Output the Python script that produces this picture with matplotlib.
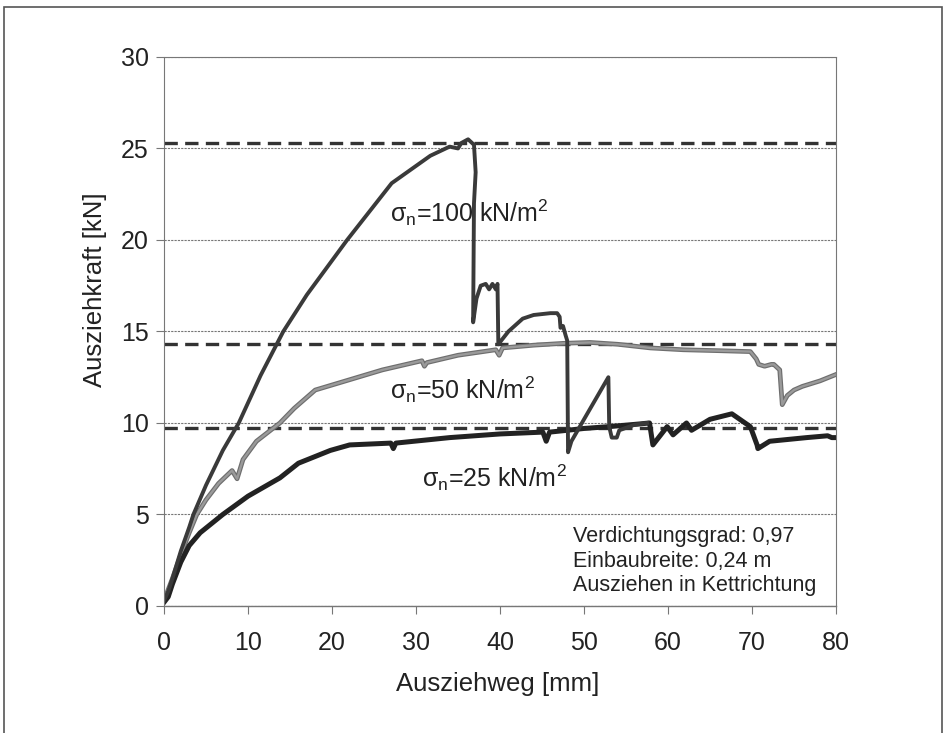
import matplotlib
matplotlib.use("Agg")
import matplotlib.pyplot as plt
from matplotlib.patches import Rectangle

plt.rcParams["font.family"] = ["Liberation Sans", "DejaVu Sans"]
plt.rcParams["mathtext.fontset"] = "custom"
plt.rcParams["mathtext.rm"] = "Liberation Sans"
plt.rcParams["mathtext.it"] = "Liberation Sans:italic"

# sigma_n = 100 kN/m2
x100 = [0, 0.5, 1, 2, 3, 3.5, 5, 7, 8.9, 11.5, 14.2, 17, 21.8, 27.1, 31.7, 34.0,
        35.0, 35.4, 36.2, 36.9, 37.1, 36.9, 36.8, 37.2, 37.7, 38.3, 38.7, 39.1,
        39.5, 39.7, 39.8, 41, 42.7, 44, 46, 46.8, 47.1, 47.2, 47.5, 47.8, 48.0,
        48.1, 48.5, 50, 52.9, 53.0, 53.3, 53.9, 54.2, 56, 57.5]
y100 = [0.3, 0.8, 1.5, 3.0, 4.3, 5.0, 6.6, 8.5, 10.0, 12.6, 15.0, 17.0, 20.0,
        23.1, 24.6, 25.1, 25.0, 25.3, 25.5, 25.2, 23.7, 22.0, 15.5, 16.8, 17.5,
        17.6, 17.3, 17.6, 17.3, 17.6, 14.3, 15.0, 15.7, 15.9, 16.0, 16.0, 15.8,
        15.2, 15.3, 14.8, 14.5, 8.4, 9.0, 10.2, 12.5, 9.8, 9.2, 9.2, 9.6, 9.9, 10.0]

# sigma_n = 50 kN/m2
x50 = [0, 1, 2, 3, 3.9, 5, 6.5, 8.1, 8.7, 9.4, 11, 13.8, 15.5, 18, 22, 26, 30.7,
       31.0, 31.3, 35, 39.5, 39.9, 40.3, 44, 47.5, 50.7, 54, 57.9, 61.8, 66, 69.8,
       70.5, 70.8, 71.5, 72.3, 72.6, 73.3, 73.6, 74.2, 75, 76, 78.1, 80]
y50 = [0.3, 1.5, 2.8, 4.0, 5.0, 5.8, 6.7, 7.4, 6.95, 8.0, 9.0, 10.0, 10.8, 11.8,
       12.35, 12.9, 13.4, 13.1, 13.3, 13.7, 14.0, 13.7, 14.1, 14.25, 14.35, 14.4,
       14.3, 14.1, 14.0, 13.95, 13.9, 13.5, 13.2, 13.1, 13.2, 13.2, 12.9, 11.0,
       11.5, 11.8, 12.0, 12.3, 12.65]

# sigma_n = 25 kN/m2
x25 = [0, 0.5, 1, 2, 3, 4.3, 7, 10, 13.8, 16, 19.8, 22.1, 27, 27.3, 27.6, 34, 40,
       45.1, 45.5, 45.9, 48, 50, 53, 56.7, 57.8, 58.2, 59.9, 60.6, 62.2, 62.8,
       65, 67.6, 69.8, 70.6, 70.7, 72.1, 76.5, 79, 79.5, 80]
y25 = [0.2, 0.5, 1.2, 2.4, 3.3, 4.0, 5.0, 6.0, 7.0, 7.8, 8.5, 8.8, 8.9, 8.6, 8.9,
       9.2, 9.4, 9.5, 9.0, 9.5, 9.6, 9.7, 9.8, 9.95, 10.0, 8.8, 9.8, 9.35, 10.0,
       9.6, 10.2, 10.5, 9.8, 8.8, 8.6, 9.0, 9.2, 9.3, 9.2, 9.2]

# maximum pull-out forces (dashed)
f_max = [25.3, 14.3, 9.75]

labels = ["σ$_\\mathregular{n}$=100 kN/m$^\\mathregular{2}$",
          "σ$_\\mathregular{n}$=50 kN/m$^\\mathregular{2}$",
          "σ$_\\mathregular{n}$=25 kN/m$^\\mathregular{2}$"]
label_pos = [(26.9, 21.5), (26.9, 11.8), (30.7, 7.0)]

info = "Verdichtungsgrad: 0,97\nEinbaubreite: 0,24 m\nAusziehen in Kettrichtung"

fig = plt.figure(figsize=(9.47, 7.33), dpi=100)
ax = fig.add_axes([0.1732, 0.1733, 0.7096, 0.749])

ax.yaxis.grid(True, color="#777777", linestyle=(0, (2, 1)), lw=0.8)
ax.set_axisbelow(True)

for y in f_max:
    ax.plot([0, 80], [y, y], color="#333333", lw=2.4, linestyle=(0, (4, 2.2)))

ax.plot(x50, y50, color="#6e6e6e", lw=3.4, solid_joinstyle="round")
ax.plot(x50, y50, color="#9a9a9a", lw=1.7, solid_joinstyle="round")
ax.plot(x25, y25, color="#222222", lw=3.6, solid_joinstyle="round")
ax.plot(x100, y100, color="#3a3a3a", lw=2.8, solid_joinstyle="round")

for lab, (tx, ty) in zip(labels, label_pos):
    ax.text(tx, ty, lab, fontsize=18, color="#222222", ha="left", va="center")

ax.text(48.7, 2.45, info, fontsize=15.5, color="#222222", ha="left",
        va="center", linespacing=1.2)

ax.set_xlim(0, 80)
ax.set_ylim(0, 30)
ax.set_xticks(range(0, 81, 10))
ax.set_yticks(range(0, 31, 5))
ax.tick_params(axis="both", labelsize=18, colors="#222222", direction="out",
               length=6, width=0.8)
ax.tick_params(axis="x", pad=12, color="#777777")
ax.tick_params(axis="y", pad=5, color="#777777")

for side in ["top", "right", "left"]:
    ax.spines[side].set_color("#777777")
    ax.spines[side].set_linestyle((0, (2, 1)))
    ax.spines[side].set_linewidth(0.8)
ax.spines["bottom"].set_color("#777777")
ax.spines["bottom"].set_linewidth(1.0)

ax.set_xlabel("Ausziehweg [mm]", fontsize=18.5, color="#222222", va="top")
ax.xaxis.set_label_coords(0.497, -0.12)
ax.set_ylabel("Ausziehkraft [kN]", fontsize=18.5, color="#222222")
ax.yaxis.set_label_coords(-0.085, 0.576)

fig.add_artist(Rectangle((0.0042, -0.02), 0.9905, 1.01, transform=fig.transFigure,
                         fill=False, edgecolor="#555555", lw=1.2))

fig.savefig("out.png", dpi=100)
